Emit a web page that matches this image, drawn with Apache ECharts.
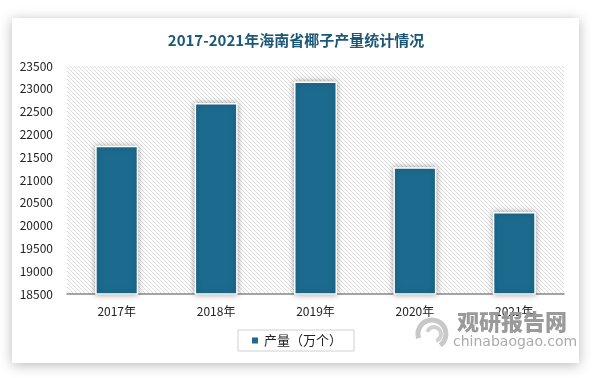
<!DOCTYPE html>
<html><head><meta charset="utf-8">
<script src="https://cdn.jsdelivr.net/npm/echarts@6/dist/echarts.min.js"></script>
<style>html,body{margin:0;padding:0;background:#fff}#c{width:592px;height:378px}</style>
</head><body><div id="c"></div>
<script>
const categories = ['2017年','2018年','2019年','2020年','2021年'];
const production = [21750, 22690, 23160, 21280, 20300];
const yTicks = {min: 18500, max: 23500, interval: 500};
const seriesName = '产量（万个）';
const titleText = '2017-2021年海南省椰子产量统计情况';

const pc = document.createElement('canvas');
pc.width = 4; pc.height = 4;
const g = pc.getContext('2d');
g.fillStyle = '#ffffff'; g.fillRect(0,0,4,4);
g.strokeStyle = '#dcdcdc'; g.lineWidth = 1;
g.beginPath();
g.moveTo(-1,-1); g.lineTo(5,5);
g.moveTo(-1,3); g.lineTo(1,5);
g.moveTo(3,-1); g.lineTo(5,1);
g.stroke();

const chart = echarts.init(document.getElementById('c'));
chart.setOption({
  backgroundColor: '#fff',
  animation: false,
  graphic: [
    {type:'rect', z:-10, shape:{x:12,y:18,width:567,height:345},
     style:{fill:'#fff', shadowBlur:12, shadowColor:'rgba(0,0,0,0.28)', shadowOffsetX:0, shadowOffsetY:2}},
    {type:'arc', z:5, shape:{cx:432, cy:334, r:14, startAngle:Math.PI*0.9, endAngle:Math.PI*2.3},
     style:{stroke:'#c8c8c8', lineWidth:5, fill:null}},
    {type:'arc', z:5, shape:{cx:434, cy:334, r:7, startAngle:Math.PI*1.1, endAngle:Math.PI*2.4},
     style:{stroke:'#d0d0d0', lineWidth:4, fill:null}},
    {type:'text', z:5, left:457, top:311, style:{text:'观研报告网', fill:'#9a9a9a', fontSize:22, fontWeight:900, fontFamily:'"Noto Sans CJK SC"'}},
    {type:'text', z:5, left:453, top:335, style:{text:'chinabaogao.com', fill:'#ababab', fontSize:14, fontFamily:'"DejaVu Sans"'}}
  ],
  title: {text: titleText, left: 'center', top: 28,
    textStyle:{color:'#1d5778', fontSize:15, fontWeight:'bold', fontFamily:'"Noto Sans CJK SC"'}},
  grid: {left:67, right:28, top:66, bottom:84, show:true, borderWidth:0,
    backgroundColor:{image:pc, repeat:'repeat'}},
  legend: {data:[seriesName], left:'center', top:330, itemWidth:8, itemHeight:8, icon:'rect',
    borderColor:'#d0d0d0', borderWidth:1, padding:[4,12,4,12],
    textStyle:{fontSize:13, color:'#222', fontFamily:'"Noto Sans CJK SC"'}},
  xAxis: {type:'category', data:categories,
    axisLine:{lineStyle:{color:'#888', width:1.5}}, axisTick:{show:false},
    axisLabel:{color:'#222', fontSize:12, margin:11, fontFamily:'"Noto Sans CJK SC"'}},
  yAxis: {type:'value', min:yTicks.min, max:yTicks.max, interval:yTicks.interval,
    axisLine:{show:false}, axisTick:{show:false}, splitLine:{show:false},
    axisLabel:{color:'#222', fontSize:12, margin:14, fontFamily:'"Noto Sans CJK SC"', formatter: v => String(v)}},
  series: [{type:'bar', name:seriesName, data:production, barWidth:43,
    itemStyle:{color:'#1c6b8f', borderColor:'#fff', borderWidth:1.5,
      shadowBlur:6, shadowColor:'rgba(0,0,0,0.35)'}}]
});
</script></body></html>
